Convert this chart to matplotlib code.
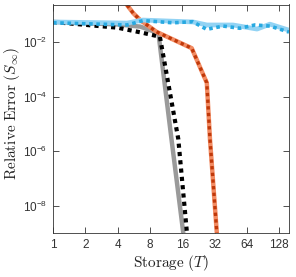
import numpy as np
import matplotlib.pyplot as plt
from matplotlib.ticker import FixedLocator, NullLocator

plt.rcParams['mathtext.fontset'] = 'cm'

# gray solid / black dotted pair
gray_T = [1, 4, 6.5, 9.6, 12.7, 16.3, 17.5]
gray_y = [-1.27, -1.36, -1.44, -1.68, -5.56, -8.95, -10.5]
black_T = [1, 4, 6.9, 9.9, 14.7, 17.7, 18.5]
black_y = [-1.27, -1.48, -1.67, -1.81, -5.56, -9.0, -10.0]

# orange solid / dark red dotted pair
orange_T = [4.5, 4.9, 5.6, 6.5, 9.2, 19.6, 27.1, 29.0, 33.6, 35.0]
orange_y = [-0.3, -0.65, -0.95, -1.2, -1.63, -2.23, -3.5, -5.56, -9.0, -10.0]

# light blue solid / blue dotted pair
blue_T = [1, 4.9, 6.9, 20.2, 27.2, 47.5, 79.6, 105, 158]
blue_y = [-1.27, -1.31, -1.2, -1.27, -1.38, -1.38, -1.53, -1.35, -1.57]
bdot_T = [1, 4.9, 6.9, 13.1, 20, 27, 38.5, 55, 76, 105, 158]
bdot_y = [-1.3, -1.38, -1.22, -1.3, -1.26, -1.54, -1.42, -1.5, -1.38, -1.42, -1.64]

xticks = [1, 2, 4, 8, 16, 32, 64, 128]
yticks = [1e-8, 1e-6, 1e-4, 1e-2]

fig = plt.figure(figsize=(2.96, 2.77), dpi=100)
ax = fig.add_axes([53 / 296, 44 / 277, 236 / 296, 228.5 / 277])

dot = (0, (1, 1))
ax.plot(gray_T, 10.0 ** np.array(gray_y), color='#9a9a9a', lw=3.2, solid_capstyle='butt')
ax.plot(black_T, 10.0 ** np.array(black_y), color='black', lw=3.0, linestyle=dot)
ax.plot(orange_T, 10.0 ** np.array(orange_y), color='#f28b62', lw=3.2)
ax.plot(orange_T, 10.0 ** np.array(orange_y), color='#c0390a', lw=2.4, linestyle=dot)
ax.plot(blue_T, 10.0 ** np.array(blue_y), color='#92d3f4', lw=3.4)
ax.plot(bdot_T, 10.0 ** np.array(bdot_y), color='#27a9e1', lw=2.6, linestyle=dot)

ax.set_xscale('log', base=2)
ax.set_yscale('log')
ax.set_xlim(1, 158)
ax.set_ylim(1e-9, 10 ** -0.63)

ax.xaxis.set_major_locator(FixedLocator(xticks))
ax.xaxis.set_minor_locator(NullLocator())
ax.set_xticklabels([str(t) for t in xticks], family='Liberation Sans', fontsize=8.5)
ax.yaxis.set_major_locator(FixedLocator(yticks))
ax.yaxis.set_minor_locator(NullLocator())
ax.set_yticklabels([r'$\mathregular{10^{%d}}$' % int(np.log10(t)) for t in yticks],
                   family='Liberation Sans', fontsize=8.5)
ax.tick_params(direction='in', top=True, right=True, length=4, width=0.6,
               colors='#333333', pad=4)
for s in ax.spines.values():
    s.set_linewidth(0.6)
    s.set_color('#333333')

ax.set_xlabel(r'$\mathrm{Storage}\ (T)$', fontsize=11, labelpad=2, color='#222222')
ax.set_ylabel(r'$\mathrm{Relative\ Error}\ (S_\infty)$', fontsize=11, color='#222222')
ax.yaxis.set_label_coords(-0.13, 0.525)

fig.savefig('out.png', dpi=100)
